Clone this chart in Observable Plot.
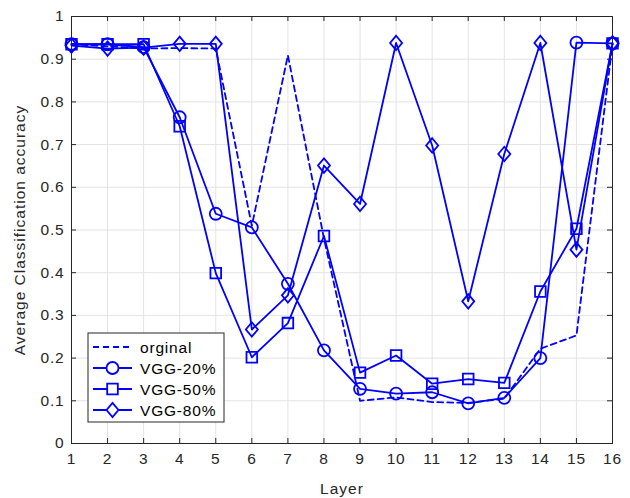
<!DOCTYPE html>
<html>
<head>
<meta charset="utf-8">
<script src="https://cdn.jsdelivr.net/npm/d3@7"></script>
<script src="https://cdn.jsdelivr.net/npm/@observablehq/plot@0.6"></script>
<style>
  html, body { margin: 0; padding: 0; background: #fff; }
  #chart svg { display: block; }
</style>
</head>
<body>
<div id="chart"></div>
<script>
// Average classification accuracy per layer
const layers = [1, 2, 3, 4, 5, 6, 7, 8, 9, 10, 11, 12, 13, 14, 15, 16];
const orginal = [0.935, 0.93, 0.925, 0.926, 0.925, 0.51, 0.909, 0.48, 0.10, 0.108, 0.097, 0.095, 0.105, 0.222, 0.253, 0.935];
const vgg20 = [0.935, 0.935, 0.928, 0.764, 0.538, 0.506, 0.374, 0.218, 0.128, 0.117, 0.12, 0.094, 0.107, 0.2, 0.939, 0.937];
const vgg50 = [0.935, 0.935, 0.935, 0.743, 0.399, 0.202, 0.282, 0.486, 0.166, 0.206, 0.14, 0.151, 0.142, 0.356, 0.503, 0.937];
const vgg80 = [0.932, 0.925, 0.927, 0.936, 0.936, 0.267, 0.347, 0.651, 0.561, 0.938, 0.698, 0.333, 0.678, 0.938, 0.454, 0.937];
const yTicks = [0, 0.1, 0.2, 0.3, 0.4, 0.5, 0.6, 0.7, 0.8, 0.9, 1];
const seriesNames = ["orginal", "VGG-20%", "VGG-50%", "VGG-80%"];

const blue = "#0000ff";
const axisColor = "#262626";
const font = "'Liberation Sans', Arial, sans-serif";
const lw = 1.8;

// MATLAB-like diamond: a little taller than wide
const diamond = {
  draw(context, size) {
    const r = Math.sqrt(size / Math.PI);
    const w = r * 1.0, h = r * 1.2;
    context.moveTo(0, -h);
    context.lineTo(w, 0);
    context.lineTo(0, h);
    context.lineTo(-w, 0);
    context.closePath();
  }
};

const rows = (vals, name) => layers.map((l, i) => ({layer: l, acc: vals[i], name}));
const sOrig = rows(orginal, seriesNames[0]);
const s20 = rows(vgg20, seriesNames[1]);
const s50 = rows(vgg50, seriesNames[2]);
const s80 = rows(vgg80, seriesNames[3]);

const W = 630, H = 498;
const mL = 71, mR = 18, mT = 16, mB = 55;
const fw = W - mL - mR, fh = H - mT - mB;
const tick = 5;

const lineOpts = {x: "layer", y: "acc", stroke: blue, strokeWidth: lw};
const dotOpts = {x: "layer", y: "acc", stroke: blue, strokeWidth: lw, fill: "none", r: 6};

const plot = Plot.plot({
  width: W,
  height: H,
  marginLeft: mL,
  marginRight: mR,
  marginTop: mT,
  marginBottom: mB,
  style: {fontFamily: font, fontSize: "15.5px", color: axisColor, background: "#fff"},
  x: {domain: [1, 16]},
  y: {domain: [0, 1]},
  marks: [
    Plot.gridX(layers, {stroke: "#e3e3e3", strokeOpacity: 1, strokeWidth: 1}),
    Plot.gridY(yTicks, {stroke: "#e3e3e3", strokeOpacity: 1, strokeWidth: 1}),
    Plot.frame({stroke: axisColor, strokeWidth: 1}),
    // inward ticks on all four sides
    Plot.tickX(layers, {x: d => d, stroke: axisColor, insetTop: fh - tick}),
    Plot.tickX(layers, {x: d => d, stroke: axisColor, insetBottom: fh - tick}),
    Plot.tickY(yTicks, {y: d => d, stroke: axisColor, insetRight: fw - tick}),
    Plot.tickY(yTicks, {y: d => d, stroke: axisColor, insetLeft: fw - tick}),
    Plot.axisX(layers, {
      tickSize: 0, tickPadding: 9, fontSize: 15.5,
      label: "Layer", labelAnchor: "center", labelArrow: "none", labelOffset: 50
    }),
    Plot.axisY(yTicks, {
      tickSize: 0, tickPadding: 7, fontSize: 15.5,
      tickFormat: d => String(+d.toFixed(1)),
      label: "Average Classification accuracy", labelAnchor: "center", labelArrow: "none", labelOffset: 58
    }),
    Plot.line(sOrig, {...lineOpts, strokeDasharray: "6,4"}),
    Plot.line(s20, lineOpts),
    Plot.dot(s20, {...dotOpts, symbol: "circle"}),
    Plot.line(s50, lineOpts),
    Plot.dot(s50, {...dotOpts, symbol: "square"}),
    Plot.line(s80, lineOpts),
    Plot.dot(s80, {...dotOpts, symbol: diamond})
  ]
});

const svg = d3.select(plot);
svg.style("letter-spacing", "0.8px");
svg.selectAll("[aria-label='x-axis label'] text, [aria-label='y-axis label'] text")
  .style("font-size", "15.5px").style("letter-spacing", "1px");

// legend box in the lower-left of the axes
const lg = svg.append("g").attr("transform", "translate(88,333)");
lg.append("rect").attr("width", 136).attr("height", 89)
  .attr("fill", "#fff").attr("stroke", axisColor).attr("stroke-width", 1);
const symTypes = [null, d3.symbolCircle, d3.symbolSquare, diamond];
seriesNames.forEach((name, i) => {
  const y = 14 + i * 21;
  lg.append("line").attr("x1", 5).attr("x2", 44).attr("y1", y).attr("y2", y)
    .attr("stroke", blue).attr("stroke-width", lw)
    .attr("stroke-dasharray", i === 0 ? "6,4" : null);
  if (symTypes[i]) {
    lg.append("path")
      .attr("d", d3.symbol(symTypes[i], Math.PI * 36)())
      .attr("transform", `translate(24.5,${y})`)
      .attr("fill", "#fff").attr("stroke", blue).attr("stroke-width", lw);
  }
  lg.append("text").attr("x", 52).attr("y", y).attr("dy", "0.36em")
    .attr("text-anchor", "start")
    .attr("font-family", font).attr("font-size", "15.5px").attr("fill", "#000")
    .text(name);
});

document.getElementById("chart").appendChild(plot);
</script>
</body>
</html>
